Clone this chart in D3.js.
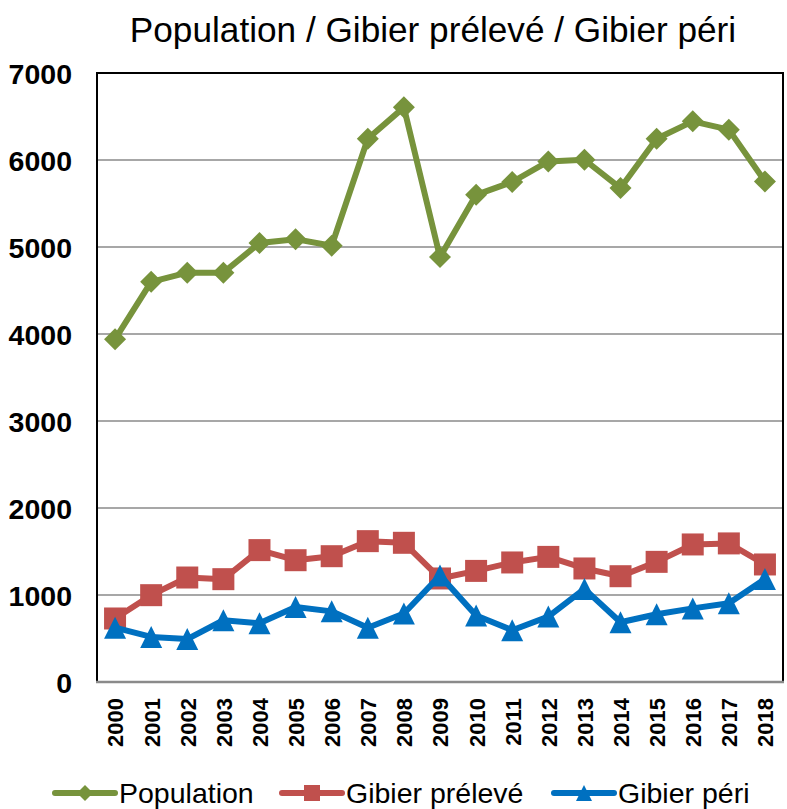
<!DOCTYPE html>
<html>
<head>
<meta charset="utf-8">
<script src="https://cdn.jsdelivr.net/npm/d3@7"></script>
<style>
  html, body { margin: 0; padding: 0; background: #fff; }
  svg { display: block; font-family: "Liberation Sans", Arial, sans-serif; }
</style>
</head>
<body>
<svg id="chart" width="787" height="809"></svg>
<script>
const title = "Population / Gibier prélevé / Gibier péri";
const years = ["2000","2001","2002","2003","2004","2005","2006","2007","2008","2009",
               "2010","2011","2012","2013","2014","2015","2016","2017","2018"];
const population = [3940, 4600, 4705, 4705, 5045, 5090, 5015, 6245, 6605, 4884,
                    5600, 5747, 5984, 6003, 5678, 6245, 6444, 6349, 5754];
const gibierPreleve = [730, 998, 1201, 1182, 1516, 1400, 1446, 1619, 1600, 1190,
                       1277, 1374, 1438, 1305, 1216, 1381, 1581, 1593, 1351];
const gibierPeri = [624, 518, 493, 710, 675, 863, 812, 624, 787, 1224,
                    764, 595, 752, 1070, 687, 779, 846, 906, 1185];
const yTicks = [0, 1000, 2000, 3000, 4000, 5000, 6000, 7000];

const seriesNames = ["Population", "Gibier prélevé", "Gibier péri"];
const seriesColors = ["#77933C", "#C0504D", "#0070C0"];
const seriesShapes = ["diamond", "square", "triangle"];
const seriesValues = [population, gibierPreleve, gibierPeri];

(function () {
const svg = d3.select("#chart");
const pLeft = 97, pRight = 783, pTop = 73, pBottom = 682;

const x = d3.scalePoint().domain(years).range([pLeft, pRight]).padding(0.5);
const y = d3.scaleLinear().domain([0, 7000]).range([pBottom, pTop]);

// Title
svg.append("text")
  .attr("x", 433).attr("y", 42)
  .attr("text-anchor", "middle")
  .attr("font-size", 35.2)
  .attr("fill", "#000")
  .text(title);

// Gridlines
svg.append("g")
  .selectAll("line")
  .data(yTicks.filter(d => d > 0 && d < 7000))
  .join("line")
  .attr("x1", pLeft).attr("x2", pRight)
  .attr("y1", d => y(d)).attr("y2", d => y(d))
  .attr("stroke", "#8a8a8a").attr("stroke-width", 1.6);

// Plot frame
svg.append("line").attr("x1", pLeft).attr("x2", pRight).attr("y1", pTop).attr("y2", pTop)
  .attr("stroke", "#000").attr("stroke-width", 2);
svg.append("line").attr("x1", pLeft).attr("x2", pLeft).attr("y1", pTop - 1).attr("y2", pBottom)
  .attr("stroke", "#000").attr("stroke-width", 2);
svg.append("line").attr("x1", pRight).attr("x2", pRight).attr("y1", pTop - 1).attr("y2", pBottom)
  .attr("stroke", "#000").attr("stroke-width", 2);
svg.append("line").attr("x1", pLeft - 1).attr("x2", pRight + 1).attr("y1", pBottom).attr("y2", pBottom)
  .attr("stroke", "#8a8a8a").attr("stroke-width", 2.6);

// Y axis labels
const yAxis = d3.axisLeft(y).tickValues(yTicks).tickSize(0).tickPadding(0).tickFormat(d3.format("d"));
const gy = svg.append("g").attr("transform", `translate(72,0)`).call(yAxis);
gy.select(".domain").remove();
gy.selectAll("text")
  .attr("font-family", "'Liberation Sans', Arial, sans-serif")
  .attr("font-size", 28.5).attr("font-weight", "bold").attr("fill", "#000")
  .attr("dy", "0.36em");

// X axis labels
const xAxis = d3.axisBottom(x).tickSize(0).tickPadding(0);
const gx = svg.append("g").attr("transform", `translate(0,${pBottom})`).call(xAxis);
gx.select(".domain").remove();
gx.selectAll("text")
  .attr("font-family", "'Liberation Sans', Arial, sans-serif")
  .attr("font-size", 22).attr("font-weight", "bold").attr("fill", "#000")
  .attr("text-anchor", "end")
  .attr("transform", "translate(0,16) rotate(-90)")
  .attr("x", 0).attr("y", 0).attr("dy", "0.36em");

function symbolPath(shape, size) {
  const h = size / 2;
  if (shape === "diamond") {
    return `M0,${-h}L${h},0L0,${h}L${-h},0Z`;
  } else if (shape === "square") {
    return `M${-h},${-h}H${h}V${h}H${-h}Z`;
  } else {
    return `M0,${-h}L${h},${h}L${-h},${h}Z`;
  }
}

const line = d3.line().x((d, i) => x(years[i])).y(d => y(d));

seriesValues.forEach((vals, si) => {
  const g = svg.append("g");
  g.append("path")
    .datum(vals)
    .attr("d", line)
    .attr("fill", "none")
    .attr("stroke", seriesColors[si])
    .attr("stroke-width", 6)
    .attr("stroke-linejoin", "round");
  g.selectAll("path.m")
    .data(vals)
    .join("path")
    .attr("class", "m")
    .attr("transform", (d, i) => `translate(${x(years[i])},${y(d)})`)
    .attr("d", symbolPath(seriesShapes[si], 22))
    .attr("fill", seriesColors[si]);
});

// Legend
const legendItems = [
  { lx: 55, tx: 119 },
  { lx: 282, tx: 346 },
  { lx: 554, tx: 618 }
];
const ly = 793;
seriesNames.forEach((name, si) => {
  const it = legendItems[si];
  const g = svg.append("g");
  g.append("line")
    .attr("x1", it.lx).attr("x2", it.lx + 60)
    .attr("y1", ly).attr("y2", ly)
    .attr("stroke", seriesColors[si]).attr("stroke-width", 6)
    .attr("stroke-linecap", "round");
  g.append("path")
    .attr("transform", `translate(${it.lx + 30},${ly})`)
    .attr("d", symbolPath(seriesShapes[si], 16))
    .attr("fill", seriesColors[si]);
  g.append("text")
    .attr("x", it.tx).attr("y", 803)
    .attr("font-size", 28.5)
    .attr("fill", "#000")
    .text(name);
});
})();
</script>
</body>
</html>
